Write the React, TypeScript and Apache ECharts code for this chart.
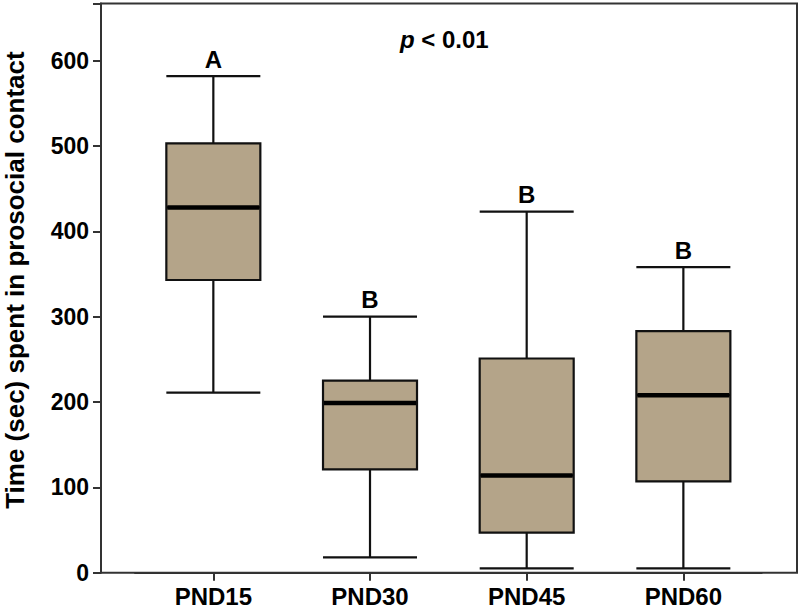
import React, { useEffect, useRef } from "react";
import * as echarts from "echarts";

const categories = ["PND15", "PND30", "PND45", "PND60"];
const mins = [211, 18, 5, 5];
const q1s = [343, 121, 47, 107];
const medians = [428, 199, 114, 208];
const q3s = [503, 225, 251, 283];
const maxs = [582, 300, 423, 358];
const sigLetters = ["A", "B", "B", "B"];
const yTicks = [0, 100, 200, 300, 400, 500, 600];

const FONT = "'Liberation Sans', Arial, Helvetica, sans-serif";

export default function App() {
  const ref = useRef<HTMLDivElement>(null);
  useEffect(() => {
    if (!ref.current) return;
    const chart = echarts.init(ref.current, undefined, { renderer: "svg" });
    const boxData = categories.map((_, i) => [mins[i], q1s[i], medians[i], q3s[i], maxs[i]]);
    chart.setOption({
      animation: false,
      backgroundColor: "#ffffff",
      grid: {
        left: 135,
        right: 38.3,
        top: 3.5,
        bottom: 37.3,
        containLabel: false,
        outerBoundsMode: "none",
      },
      xAxis: {
        type: "category",
        data: categories,
        boundaryGap: true,
        axisLine: { show: true, lineStyle: { color: "#333", width: 2 } },
        axisTick: { show: true, alignWithLabel: true, length: 8, lineStyle: { color: "#333", width: 2 } },
        axisLabel: { color: "#000", fontSize: 24, fontWeight: "bold", fontFamily: FONT, margin: 12 },
        splitLine: { show: false },
      },
      yAxis: {
        type: "value",
        min: 0,
        max: 667,
        interval: 100,
        offset: 34,
        name: "Time (sec) spent in prosocial contact",
        nameLocation: "middle",
        nameGap: 73,
        nameTextStyle: {
          color: "#000",
          fontSize: 26,
          lineHeight: 26,
          fontWeight: "bold",
          fontFamily: FONT,
          padding: [0, 0, 0, 16],
        },
        axisLine: { show: true, lineStyle: { color: "#333", width: 2 } },
        axisTick: { show: true, length: 8, lineStyle: { color: "#333", width: 2 } },
        axisLabel: {
          color: "#000",
          fontSize: 23,
          fontWeight: "bold",
          fontFamily: FONT,
          margin: 12,
          formatter: (v: number) => (yTicks.includes(v) ? String(v) : ""),
        },
        splitLine: { show: false },
      },
      graphic: [
        {
          type: "rect",
          shape: { x: 101, y: 3.5, width: 696, height: 569.2 },
          style: { fill: "none", stroke: "#333", lineWidth: 2 },
          silent: true,
          z: 1,
        },
        {
          type: "text",
          left: 400,
          top: 27,
          style: {
            text: "{i|p} < 0.01",
            font: `bold 24px ${FONT}`,
            fill: "#000",
            rich: {
              i: { fontStyle: "italic", fontWeight: "bold", fontSize: 24, fontFamily: FONT, fill: "#000" },
            },
          },
        },
      ],
      series: [
        {
          type: "boxplot",
          data: boxData,
          boxWidth: [94, 94],
          itemStyle: { color: "#b4a489", borderColor: "#111", borderWidth: 2.2 },
          z: 2,
        },
        {
          type: "custom",
          data: medians.map((m, i) => [i, m]),
          renderItem: (_params: any, api: any) => {
            const pt = api.coord([api.value(0), api.value(1)]);
            return {
              type: "line",
              shape: { x1: pt[0] - 46, y1: pt[1], x2: pt[0] + 46, y2: pt[1] },
              style: { stroke: "#000", lineWidth: 4.5 },
            };
          },
          z: 3,
        },
        {
          type: "scatter",
          data: maxs.map((m, i) => [i, m]),
          symbolSize: 0,
          itemStyle: { color: "#000", opacity: 1 },
          label: {
            show: true,
            position: "top",
            distance: 5,
            formatter: (p: any) => sigLetters[p.dataIndex],
            color: "#000",
            opacity: 1,
            fontSize: 24,
            fontWeight: "bold",
            fontFamily: FONT,
          },
          emphasis: { disabled: true },
          z: 4,
        },
      ],
    });
    return () => chart.dispose();
  }, []);
  return (
    <div
      ref={ref}
      style={{ position: "fixed", left: 0, top: 0, width: 800, height: 610, background: "#fff" }}
    />
  );
}
